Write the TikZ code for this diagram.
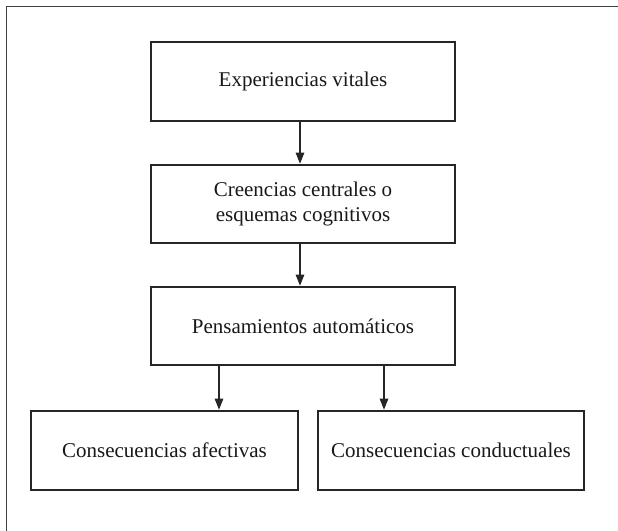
\documentclass[tikz,border=0pt]{standalone}
\usepackage{fontspec}
\setmainfont{Liberation Serif}
\usetikzlibrary{arrows.meta}
\begin{document}
\begin{tikzpicture}[x=1pt,y=-1pt,
  box/.style={draw=black!85, line width=1.4pt, fill=white, inner sep=0pt,
    text=black!90, align=center, font=\fontsize{21}{25}\selectfont},
  arr/.style={draw=black!85, line width=1.1pt, -{Triangle[length=11pt,width=8.5pt]}, shorten >=0.6pt},
  frame/.style={draw=black!75, line width=1.6pt}]
\useasboundingbox (0,0) rectangle (618,530);
\draw[frame] (6.5,531) -- (6.5,6.5) -- (619,6.5);
\node[box, minimum width=304pt, minimum height=79pt] (b1) at (303,81.5) {Experiencias vitales};
\node[box, minimum width=304pt, minimum height=78pt] (b2) at (303,204) {Creencias centrales o\\esquemas cognitivos};
\node[box, minimum width=304pt, minimum height=78pt] (b3) at (303,326) {Pensamientos automáticos};
\node[box, minimum width=267pt, minimum height=79pt] (b4) at (164.5,450.5) {Consecuencias afectivas};
\node[box, minimum width=266pt, minimum height=79pt] (b5) at (451,450.5) {Consecuencias conductuales};
\coordinate (cx) at (300,0);
\coordinate (cl) at (219,0);
\coordinate (cr) at (384,0);
\draw[arr] (b1.south -| cx) -- (b2.north -| cx);
\draw[arr] (b2.south -| cx) -- (b3.north -| cx);
\draw[arr] (b3.south -| cl) -- (b4.north -| cl);
\draw[arr] (b3.south -| cr) -- (b5.north -| cr);
\end{tikzpicture}
\end{document}
